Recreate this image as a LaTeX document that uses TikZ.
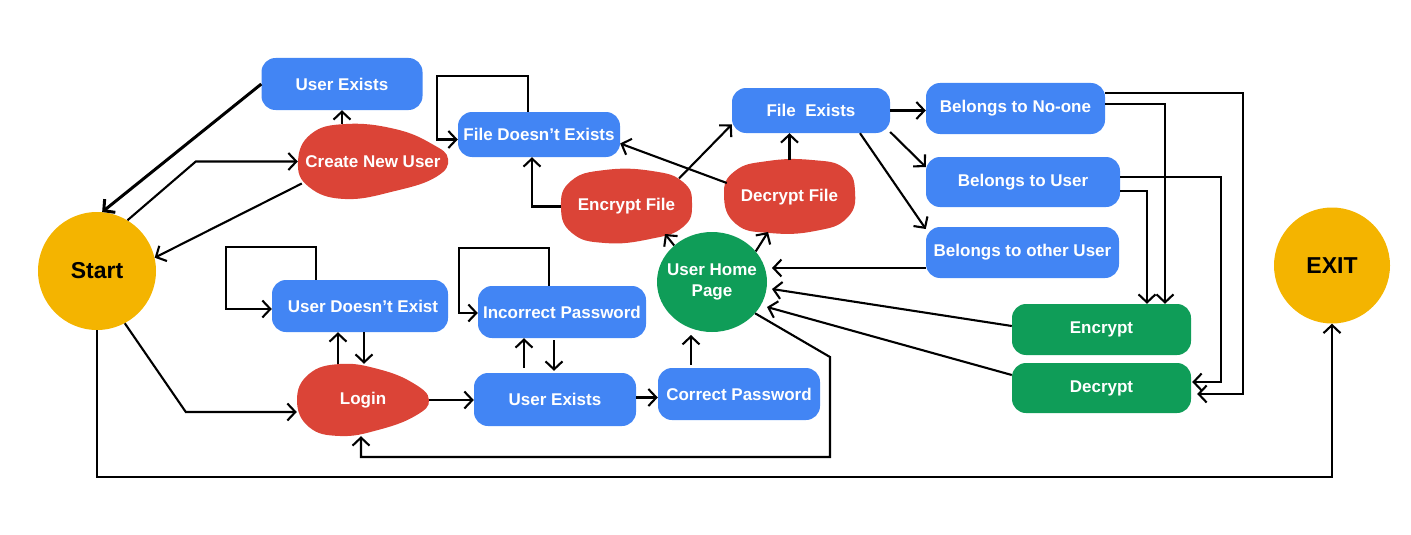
\documentclass[tikz,border=0pt]{standalone}
\usepackage{fontspec}
\setmainfont{Liberation Sans}
\usetikzlibrary{arrows.meta,shapes.geometric}
\definecolor{gblue}{HTML}{4285F4}
\definecolor{gred}{HTML}{DB4437}
\definecolor{ggreen}{HTML}{0F9D58}
\definecolor{gyellow}{HTML}{F4B400}
\newcommand\nodefont{\bfseries\fontsize{17}{21}\selectfont}
\newcommand\bigfont{\bfseries\fontsize{23}{26}\selectfont}
\begin{document}
\begin{tikzpicture}[x=1pt,y=-1pt,
  box/.style={rectangle, rounded corners=14pt, fill=gblue, text=white, font=\nodefont, inner sep=0pt},
  gbox/.style={box, fill=ggreen},
  ghost/.style={rectangle, draw=none, fill=none, text=white, font=\nodefont, inner sep=0pt},
  blob/.style={fill=gred},
  arr/.style={line width=2.1pt, -{Straight Barb[length=8pt,width=17pt]}},
  ]
\useasboundingbox (0,0) rectangle (1411,535);

% circles
\node[circle, fill=gyellow, minimum size=118pt, inner sep=0pt, font=\bigfont] (start) at (97,271) {Start};
\node[circle, fill=gyellow, minimum size=116pt, inner sep=0pt, font=\bigfont] (exit) at (1332,265.5) {EXIT};
\node[ellipse, fill=ggreen, minimum width=110pt, minimum height=100pt, inner xsep=-12pt, inner ysep=0pt, text=white, font=\nodefont, align=center] (uhp) at (712,282) {User Home\\Page};

% red blobs
\fill[blob] plot[smooth cycle, tension=0.75] coordinates {(298,162) (311,134) (346,124) (395,129) (432,144) (448,159) (436,177) (395,191) (345,199) (309,187)};
\fill[blob] plot[smooth cycle, tension=0.75] coordinates {(297,400) (309,374) (340,364) (378,369) (413,383) (429,400) (415,416) (378,430) (340,436) (309,427)};
\fill[blob] plot[smooth cycle, tension=0.8] coordinates {(561,207) (571,181) (605,170) (652,171) (683,182) (692,204) (683,227) (650,239) (605,243) (572,233)};
\fill[blob] plot[smooth cycle, tension=0.8] coordinates {(724,195) (735,171) (768,161) (812,160) (844,168) (855,191) (847,218) (815,231) (770,233) (736,224)};

\node[ghost, minimum width=150pt, minimum height=75pt] (cnu) at (373,161.5) {Create New User\hspace{4pt}};
\node[ghost, minimum width=132pt, minimum height=72pt] (login) at (363,400) {Login\hspace{26pt}};
\node[ghost, minimum width=131pt, minimum height=72pt] (ef) at (626.5,206.5) {Encrypt File};
\node[ghost, minimum width=131pt, minimum height=73pt] (df) at (789.5,197) {Decrypt File};

% blue boxes
\node[box, minimum width=161pt, minimum height=52pt] (ue1) at (342,84) {User Exists};
\node[box, minimum width=162pt, minimum height=45pt] (fde) at (539,134.5) {File Doesn’t Exists};
\node[box, minimum width=158pt, minimum height=45pt] (fe) at (811,110.5) {File\ \ Exists};
\node[box, minimum width=179pt, minimum height=51pt] (bn) at (1015.5,108.5) {Belongs to No-one};
\node[box, minimum width=194pt, minimum height=50pt] (bu) at (1023,182) {Belongs to User\hspace{24pt}};
\node[box, minimum width=193pt, minimum height=51pt] (bo) at (1022.5,252.5) {Belongs to other User\hspace{10pt}};
\node[box, minimum width=176pt, minimum height=52pt] (ude) at (360,306) {\hspace*{6pt}User Doesn’t Exist};
\node[box, minimum width=168pt, minimum height=52pt] (ip) at (562,312) {Incorrect Password};
\node[box, minimum width=162pt, minimum height=53pt] (ue2) at (555,399.5) {User Exists};
\node[box, minimum width=162pt, minimum height=52pt] (cp) at (739,394) {Correct Password};
\node[gbox, minimum width=179pt, minimum height=51pt] (enc) at (1101.5,329.5) {Encrypt\hspace{23pt}};
\node[gbox, minimum width=179pt, minimum height=50pt] (dec) at (1101.5,388) {Decrypt\hspace{21pt}};

% connectors
\draw[arr, line width=3pt] (ue1.west) -- (start.85);
\draw[arr] (start.59) -- ([xshift=-102pt]cnu.west) -- (cnu.west);
\draw[arr] ([xshift=4pt,yshift=-22pt]cnu.west) -- (start.13);
\draw[arr] (ue1.south |- cnu.north) -- (ue1.south);
\draw[arr] ([xshift=-11pt]fde.north) -- ++(0,-36) -- ++(-91,0) |- ([yshift=-5pt]fde.west);
\draw[arr] (ef.west) -| ([xshift=-7pt]fde.south);
\draw[arr] ([xshift=52.5pt,yshift=28pt]ef.center) -- ([yshift=-14pt]fe.west);
\draw[arr] ([xshift=3pt,yshift=14pt]df.west) -- ([yshift=-9pt]fde.east);
\draw[arr] (df.north) -- (df.north |- fe.south);
\draw[arr] (uhp.136) -- ([xshift=38.5pt,yshift=-27.5pt]ef.center);
\draw[arr] (uhp.35) -- ([xshift=-21.5pt,yshift=-35pt]df.center);
\draw[arr] (fe.east) -- (fe.east -| bn.west);
\draw[arr] ([yshift=-21.5pt]fe.east) -- ([yshift=15pt]bu.west);
\draw[arr] ([xshift=49pt]fe.south) -- ([yshift=23.5pt]bo.west);
\draw[arr] ([yshift=-15.5pt]bo.west) -- ([xshift=60pt,yshift=14pt]uhp.center);
\draw[arr] ([yshift=3.5pt]enc.west) -- ([xshift=60pt,yshift=-7pt]uhp.center);
\draw[arr] ([yshift=13pt]dec.west) -- ([xshift=55pt,yshift=-25pt]uhp.center);
\draw[arr] (uhp.-36) -- ([xshift=118pt,yshift=-75pt]uhp.center) -- ++(0,100) -| ([xshift=-2pt]login.south);
\draw[arr] (start.south) -- ++(0,147) -| (exit.south);
\draw[arr] (start.-62) -- ([xshift=-111pt,yshift=-12pt]login.west) -- ([yshift=-12pt]login.west);
\draw[arr] ([xshift=-44pt]ude.north) -- ++(0,-33) -- ++(-90,0) |- ([yshift=-3pt]ude.west);
\draw[arr] ([xshift=-25pt]login.north) -- ([xshift=-25pt]login.north |- ude.south);
\draw[arr] ([xshift=4pt]ude.south) -- ([xshift=4pt]ude.south |- login.north);
\draw[arr] (login.east) -- (login.east -| ue2.west);
\draw[arr] ([xshift=-13pt]ip.north) -- ++(0,-38) -- ++(-90,0) |- ([yshift=-1pt]ip.west);
\draw[arr] ([xshift=-31pt,yshift=5pt]ue2.north) -- ([xshift=-31pt]ue2.north |- ip.south);
\draw[arr] ([xshift=-8pt,yshift=-2pt]ip.south) -- ([xshift=-8pt,yshift=2pt]ip.south |- ue2.north);
\draw[arr] ([yshift=2pt]ue2.east) -- ([yshift=2pt]ue2.east -| cp.west);
\draw[arr] ([xshift=-48pt,yshift=3pt]cp.north) -- ([xshift=-21pt,yshift=-53pt]uhp.center);
\draw[arr] ([yshift=4.5pt]bn.east) -| ([xshift=63.5pt]enc.north);
\draw[arr] ([yshift=15.5pt]bn.east) -- ++(138,0) |- ([xshift=6pt,yshift=-6pt]dec.east);
\draw[arr] ([yshift=-9pt]bu.east) -| ([xshift=45.5pt]enc.north);
\draw[arr] ([yshift=5pt]bu.east) -- ++(101,0) |- ([xshift=1pt,yshift=6pt]dec.east);
\end{tikzpicture}
\end{document}
